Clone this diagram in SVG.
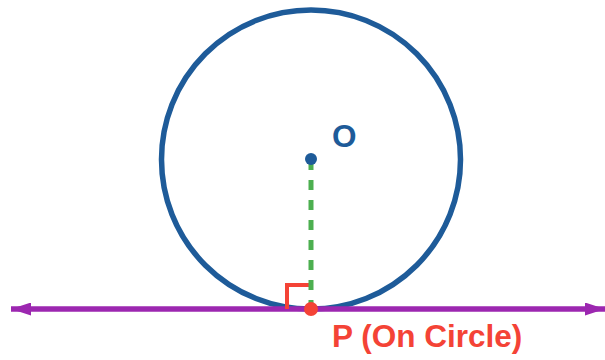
<svg xmlns="http://www.w3.org/2000/svg" width="605" height="360" viewBox="0 0 605 360">
<style>
.lbl{font-family:"Liberation Sans",Arial,sans-serif;font-weight:bold;font-size:31.5px}
</style>
<defs>
<marker id="arr" viewBox="0 0 20 13" refX="20" refY="6.5" markerWidth="20" markerHeight="13" orient="auto-start-reverse" markerUnits="userSpaceOnUse">
<path d="M0,0 L20,6.5 L0,13 z" fill="#9C27B0"/>
</marker>
</defs>
<rect width="605" height="360" fill="#ffffff"/>
<g id="circle">
<circle cx="311" cy="159.5" r="149.5" fill="none" stroke="#1E5B99" stroke-width="5.5"/>
</g>
<g id="connectors">
<line x1="11" y1="309" x2="605" y2="309" stroke="#9C27B0" stroke-width="5.5" marker-start="url(#arr)" marker-end="url(#arr)"/>
<polyline points="287,309 287,285 311,285" fill="none" stroke="#F44336" stroke-width="4"/>
<line x1="311" y1="160" x2="311" y2="310" stroke="#4CAF50" stroke-width="5" stroke-dasharray="10 10"/>
</g>
<g id="center-O">
<circle cx="311" cy="159" r="6" fill="#1E5B99"/>
<text class="lbl" x="332" y="147" fill="#1E5B99">O</text>
</g>
<g id="point-P">
<circle cx="311" cy="309" r="7" fill="#F44336"/>
<text class="lbl" x="332" y="347" fill="#F44336">P (On Circle)</text>
</g>
</svg>
